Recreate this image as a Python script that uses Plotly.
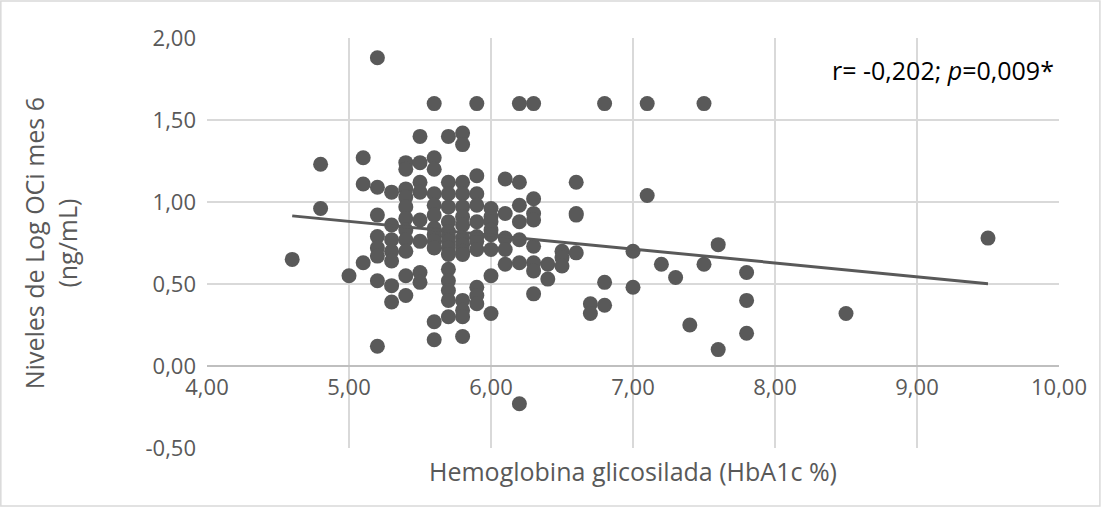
import numpy as np
import plotly.graph_objects as go

# HbA1c (%) and log OCi values, grouped by HbA1c level
hba1c_levels = [4.6, 4.8, 5.0, 5.1, 5.2, 5.3, 5.4, 5.5, 5.6, 5.7, 5.8, 5.9, 6.0,
                6.1, 6.2, 6.3, 6.4, 6.5, 6.6, 6.7, 6.8, 7.0, 7.1, 7.2, 7.3, 7.4,
                7.5, 7.6, 7.8, 8.5, 9.5]
log_oci = [
    [0.65],
    [1.23, 0.96],
    [0.55],
    [1.27, 1.11, 0.63],
    [1.88, 1.09, 0.92, 0.79, 0.72, 0.67, 0.52, 0.12],
    [1.06, 0.86, 0.77, 0.70, 0.64, 0.49, 0.39],
    [1.24, 1.20, 1.08, 1.03, 0.97, 0.90, 0.83, 0.77, 0.70, 0.55, 0.43],
    [1.40, 1.24, 1.12, 1.06, 0.89, 0.76, 0.57, 0.51],
    [1.60, 1.27, 1.20, 1.05, 0.98, 0.92, 0.84, 0.80, 0.76, 0.72, 0.27, 0.16],
    [1.40, 1.12, 1.05, 0.97, 0.88, 0.82, 0.79, 0.76, 0.72, 0.68, 0.59, 0.52,
     0.46, 0.40, 0.30],
    [1.42, 1.35, 1.12, 1.05, 0.97, 0.91, 0.86, 0.78, 0.74, 0.70, 0.68, 0.40,
     0.34, 0.30, 0.18],
    [1.60, 1.16, 1.05, 0.98, 0.88, 0.79, 0.76, 0.71, 0.48, 0.43, 0.38],
    [0.96, 0.91, 0.88, 0.83, 0.80, 0.71, 0.55, 0.32],
    [1.14, 0.93, 0.78, 0.71, 0.62],
    [1.60, 1.12, 0.98, 0.88, 0.77, 0.63, -0.23],
    [1.60, 1.02, 0.93, 0.89, 0.73, 0.63, 0.58, 0.44],
    [0.62, 0.53],
    [0.70, 0.66, 0.61],
    [1.12, 0.93, 0.92, 0.69],
    [0.38, 0.32],
    [1.60, 0.51, 0.37],
    [0.70, 0.48],
    [1.60, 1.04],
    [0.62],
    [0.54],
    [0.25],
    [1.60, 0.62],
    [0.74, 0.10],
    [0.57, 0.40, 0.20],
    [0.32],
    [0.78],
]

x_ticks = [4, 5, 6, 7, 8, 9, 10]
x_tick_labels = ["4,00", "5,00", "6,00", "7,00", "8,00", "9,00", "10,00"]
y_ticks = [-0.5, 0, 0.5, 1.0, 1.5, 2.0]
y_tick_labels = ["-0,50", "0,00", "0,50", "1,00", "1,50", "2,00"]

x = np.array([lv for lv, vals in zip(hba1c_levels, log_oci) for _ in vals])
y = np.array([v for vals in log_oci for v in vals])

# Linear trend line across the observed HbA1c range
slope, intercept = np.polyfit(x, y, 1)
x_fit = np.array([x.min(), x.max()])
y_fit = slope * x_fit + intercept

GREY = "#595959"
GRID = "#d9d9d9"
FONT = "Open Sans"
TICK_SIZE = 22
TITLE_SIZE = 25

fig = go.Figure()
fig.add_trace(go.Scatter(
    x=x, y=y, mode="markers",
    marker=dict(color=GREY, size=15, line=dict(width=0)),
    showlegend=False, hoverinfo="x+y",
))
fig.add_trace(go.Scatter(
    x=x_fit, y=y_fit, mode="lines",
    line=dict(color=GREY, width=3),
    showlegend=False, hoverinfo="skip",
))

fig.update_layout(
    width=1112, height=517,
    margin=dict(l=207, r=53, t=38, b=69),
    paper_bgcolor="white", plot_bgcolor="white",
    font=dict(family=FONT, color=GREY, size=TICK_SIZE),
    xaxis=dict(
        range=[4, 10], tickvals=x_ticks, ticktext=x_tick_labels,
        showgrid=True, gridcolor=GRID, gridwidth=1.5,
        zeroline=False, showline=True, linecolor="#bfbfbf", linewidth=1.5,
        anchor="free", position=0.2, ticks="", ticklabelstandoff=2,
        tickfont=dict(size=TICK_SIZE, color=GREY),
    ),
    yaxis=dict(
        range=[-0.5, 2.0], tickvals=y_ticks, ticktext=y_tick_labels,
        showgrid=True, gridcolor=GRID, gridwidth=1.5,
        zeroline=False, showline=False, ticks="", ticklabelstandoff=10,
        tickfont=dict(size=TICK_SIZE, color=GREY),
    ),
    shapes=[
        dict(type="rect", xref="paper", yref="paper",
             x0=-0.242, x1=1.048, y0=-0.1415, y1=1.09,
             line=dict(color="#d9d9d9", width=1.5), fillcolor="rgba(0,0,0,0)",
             layer="below"),
    ],
    annotations=[
        dict(text="Hemoglobina glicosilada (HbA1c %)", xref="paper", yref="paper",
             x=0.5, y=-0.055, xanchor="center", yanchor="middle",
             showarrow=False, font=dict(size=TITLE_SIZE, color=GREY)),
        dict(text="Niveles de Log OCi mes 6<br>(ng/mL)", xref="paper", yref="paper",
             x=-0.184, y=0.5, xanchor="center", yanchor="middle", textangle=-90,
             showarrow=False, font=dict(size=TITLE_SIZE, color=GREY)),
        dict(text="r= -0,202; <i>p</i>=0,009*", xref="paper", yref="paper",
             x=0.997, y=0.922, xanchor="right", yanchor="middle",
             showarrow=False, font=dict(size=TITLE_SIZE, color="#000000")),
    ],
)

fig.write_html("out.html")
